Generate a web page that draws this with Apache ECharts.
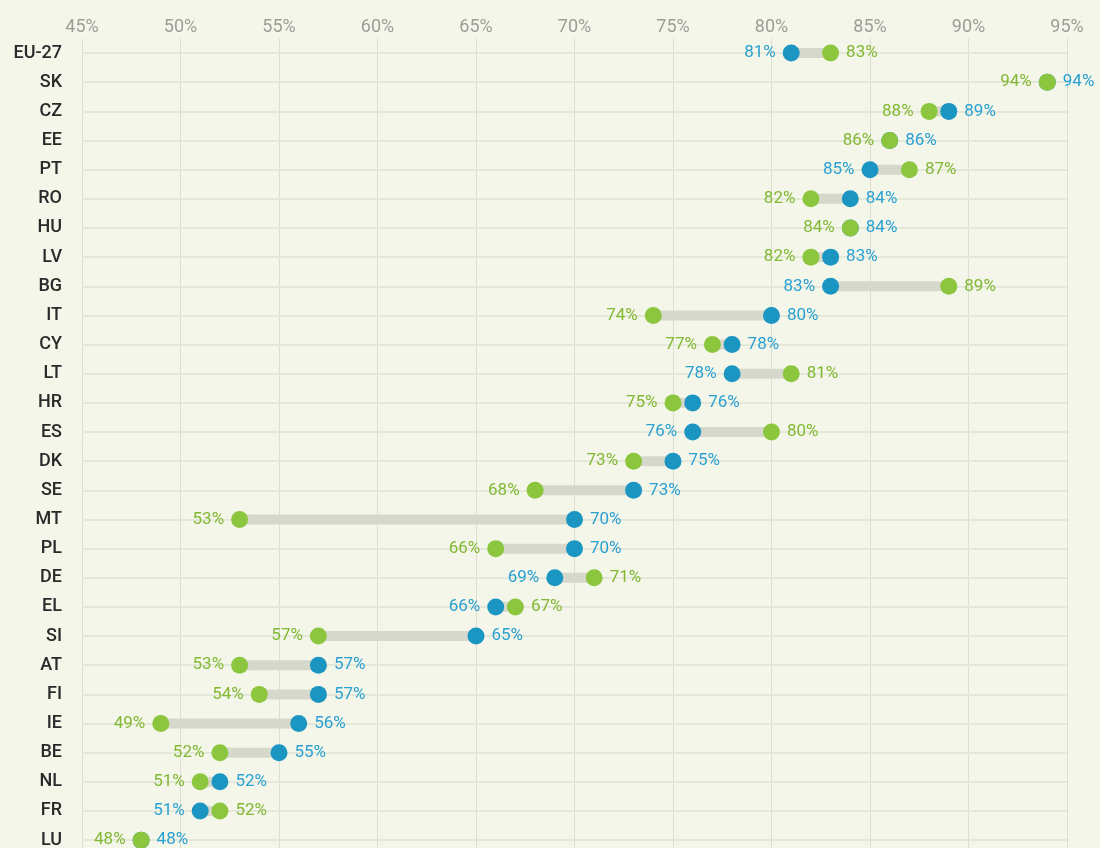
<!DOCTYPE html>
<html>
<head>
<meta charset="utf-8">
<script src="https://cdn.jsdelivr.net/npm/echarts@6/dist/echarts.min.js"></script>
<style>
html,body{margin:0;padding:0;background:#f3f6e9;}
#chart{width:1100px;height:848px;}
</style>
</head>
<body>
<div id="chart"></div>
<script>
const countries = ['EU-27','SK','CZ','EE','PT','RO','HU','LV','BG','IT','CY','LT','HR','ES','DK','SE','MT','PL','DE','EL','SI','AT','FI','IE','BE','NL','FR','LU'];
const blueValues = [81,94,89,86,85,84,84,83,83,80,78,78,76,76,75,73,70,70,69,66,65,57,57,56,55,52,51,48];
const greenValues = [83,94,88,86,87,82,84,82,89,74,77,81,75,80,73,68,53,66,71,67,57,53,54,49,52,51,52,48];
const xTicks = [45,50,55,60,65,70,75,80,85,90,95];

const BLUE = '#1b95c2', GREEN = '#8cc63e';
const BLUE_TXT = '#2aa0d3', GREEN_TXT = '#82b834';
const labelFont = {fontFamily:'Roboto', fontSize:17};

const blueData = blueValues.map((v,i)=>({
  value:[v,i],
  label:{position: v < greenValues[i] ? 'left' : 'right'}
}));
const greenData = greenValues.map((v,i)=>({
  value:[v,i],
  label:{position: v <= blueValues[i] ? 'left' : 'right'}
}));
const rangeData = countries.map((c,i)=>[Math.min(blueValues[i],greenValues[i]), Math.max(blueValues[i],greenValues[i]), i]);

const chart = echarts.init(document.getElementById('chart'), null, {renderer:'canvas'});
chart.setOption({
  backgroundColor:'#f3f6e9',
  animation:false,
  grid:{left:82, right:33, top:38.5, height:816.2, containLabel:false, outerBoundsMode:'none'},
  xAxis:{
    type:'value', position:'top', min:xTicks[0], max:xTicks[xTicks.length-1], interval:5,
    axisLine:{show:false}, axisTick:{show:false},
    axisLabel:{formatter:'{value}%', color:'#9d9d98', fontFamily:'Roboto', fontSize:18, margin:2},
    splitLine:{lineStyle:{color:'#dcdfd0', width:1}}
  },
  yAxis:{
    type:'category', data:countries, inverse:true,
    axisLine:{show:false}, axisTick:{show:false},
    axisLabel:{color:'#2a2a2a', fontFamily:'Roboto', fontSize:18, fontWeight:500, margin:20},
    splitLine:{show:false}
  },
  series:[
    {
      type:'custom', silent:true, z:2,
      data: rangeData,
      encode:{x:[0,1], y:2},
      renderItem:(params, api)=>{
        const a = api.coord([api.value(0), api.value(2)]);
        const b = api.coord([api.value(1), api.value(2)]);
        return {type:'line', shape:{x1:a[0],y1:a[1],x2:b[0],y2:b[1]}, style:{stroke:'#d6d8cc', lineWidth:10}};
      }
    },
    {
      type:'scatter', name:'blue', z:3, symbolSize:17,
      itemStyle:{color:BLUE, opacity:1},
      data: blueData,
      label:{show:true, formatter:p=>p.value[0]+'%', color:BLUE_TXT, distance:7, ...labelFont},
      markLine:{
        silent:true, symbol:'none', label:{show:false}, z:1,
        lineStyle:{color:'#e4e8d8', width:2, type:'solid'},
        data: countries.map((c,i)=>({yAxis:i}))
      }
    },
    {
      type:'scatter', name:'green', z:4, symbolSize:17,
      itemStyle:{color:GREEN, opacity:1},
      data: greenData,
      label:{show:true, formatter:p=>p.value[0]+'%', color:GREEN_TXT, distance:7, ...labelFont}
    }
  ]
});
</script>
</body>
</html>
